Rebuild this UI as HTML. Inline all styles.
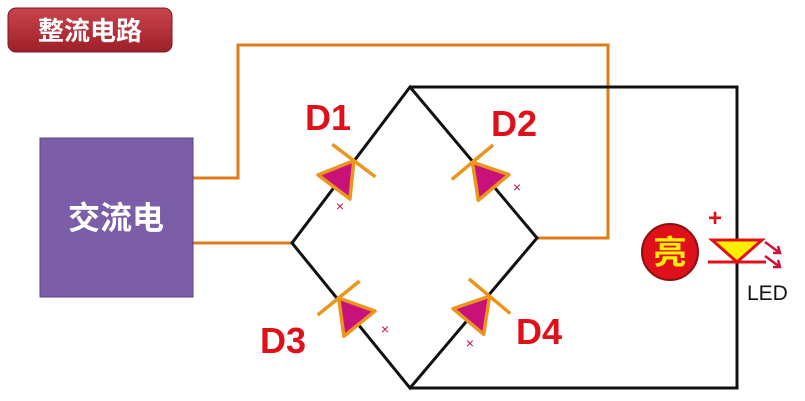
<!DOCTYPE html>
<html><head><meta charset="utf-8"><style>
body{margin:0;background:#fff;width:805px;height:401px;overflow:hidden}
svg{display:block}
text{font-family:"Liberation Sans","Noto Sans CJK SC",sans-serif}
</style></head><body>
<svg width="805" height="401" viewBox="0 0 805 401">
<defs><linearGradient id="tg" x1="0" y1="0" x2="0" y2="1"><stop offset="0" stop-color="#c9454c"/><stop offset="1" stop-color="#9e1f29"/></linearGradient></defs>
<g>
<rect x="8" y="8" width="164" height="44" rx="8" fill="url(#tg)" stroke="#7a1820"/>
<text x="90" y="40" font-size="26" font-weight="bold" fill="#fff" text-anchor="middle">整流电路</text></g>
<g fill="none" stroke="#e07b1a" stroke-width="3">
<polyline points="193,178 238,178 238,45 608,45 608,238 537,238"/>
<line x1="193" y1="243" x2="292" y2="243"/></g>
<g fill="none" stroke="#111" stroke-width="3">
<polygon points="410,87 537,238 410,388 292,243"/>
<polyline points="410,87 737,87 737,388 410,388"/></g>
<g>
<rect x="40" y="138" width="153" height="159" fill="#7b5ea7" stroke="#5a4480"/>
<text x="116" y="229" font-size="32" font-weight="bold" fill="#fff" text-anchor="middle">交流电</text></g>
<g id="diodes"></g>
<g font-size="36" font-weight="bold" fill="#e0101a">
<text x="305" y="130">D1</text>
<text x="491" y="136">D2</text>
<text x="260" y="353">D3</text>
<text x="516" y="344">D4</text></g>
<g font-size="14" fill="#c0104a" text-anchor="middle">
<text x="340" y="211">×</text><text x="517" y="192">×</text><text x="385" y="334">×</text><text x="470" y="348">×</text></g>
<g>
<text x="715" y="226" font-size="24" font-weight="bold" fill="#e0101a" text-anchor="middle">+</text>
<polygon points="712,240 762,240 737,262" fill="#ffee00" stroke="#e0101a" stroke-width="3"/>
<line x1="708" y1="262" x2="766" y2="262" stroke="#e0101a" stroke-width="3"/>
<g stroke="#d0103a" stroke-width="2.5" fill="none">
<line x1="765" y1="242" x2="780" y2="253"/><polyline points="773,253 780,253 778,246"/>
<line x1="765" y1="256" x2="780" y2="267"/><polyline points="773,267 780,267 778,260"/></g>
<text x="747" y="300" font-size="21" fill="#111">LED</text></g>
<g>
<circle cx="670" cy="252" r="28" fill="#e0101a" stroke="#8a1010" stroke-width="2"/>
<text x="670" y="264" font-size="33" font-weight="bold" fill="#ffee00" text-anchor="middle">亮</text></g>
</svg>
<script>
const diodeNames=['d1','d2','d3','d4'];
const diodeCx=[343,484,350,478];
const diodeCy=[175,176,312,310];
const diodeAngle=[-53,-130,-129,-50];
const g=document.getElementById('diodes');
const ns='http://www.w3.org/2000/svg';
for(let i=0;i<4;i++){
 const d=document.createElementNS(ns,'g');
 
 
 d.setAttribute('transform','translate('+diodeCx[i]+','+diodeCy[i]+') rotate('+diodeAngle[i]+')');
 d.innerHTML='<polygon points="-15,-20 -15,20 18,0" fill="#c8127a" stroke="#ec951c" stroke-width="3.5" stroke-linejoin="round"/><line x1="18" y1="-27" x2="18" y2="27" stroke="#ec951c" stroke-width="3.5"/>';
 g.appendChild(d);
}
</script>
</body></html>
